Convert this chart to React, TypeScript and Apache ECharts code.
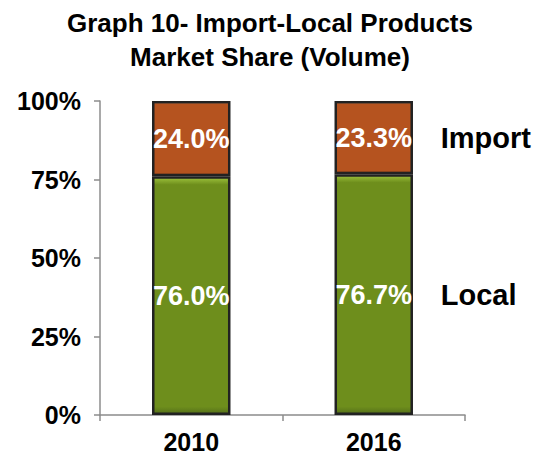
import React, { useEffect, useRef } from "react";
import * as echarts from "echarts";

const categories = ["2010", "2016"];
const localValues = [76.0, 76.7];
const importValues = [24.0, 23.3];
const yTicks = [0, 25, 50, 75, 100];
const seriesNames = ["Local", "Import"];

const FONT = "'Liberation Sans', Arial, Helvetica, sans-serif";

function grad(top: string, main: string, bottom: string) {
  return new echarts.graphic.LinearGradient(0, 0, 0, 1, [
    { offset: 0, color: top },
    { offset: 0.03, color: main },
    { offset: 0.97, color: main },
    { offset: 1, color: bottom },
  ]);
}

export default function App() {
  const ref = useRef<HTMLDivElement>(null);
  useEffect(() => {
    if (!ref.current) return;
    const chart = echarts.init(ref.current, undefined, { renderer: "svg" });
    const last = categories.length - 1;
    const barLabel = {
      show: true,
      position: "inside",
      color: "#ffffff",
      fontFamily: FONT,
      fontWeight: "bold",
      fontSize: 27,
      formatter: (p: any) => Number(p.value).toFixed(1) + "%",
    };
    const sideLabel = (name: string) => ({
      show: true,
      position: "right",
      distance: 67,
      color: "#000000",
      fontFamily: FONT,
      fontWeight: "bold",
      fontSize: 29,
      formatter: name,
    });
    chart.setOption({
      animation: false,
      backgroundColor: "#ffffff",
      title: {
        text: "Graph 10- Import-Local Products\nMarket Share (Volume)",
        left: "center",
        top: 1,
        textStyle: {
          fontFamily: FONT,
          fontWeight: "bold",
          fontSize: 26,
          lineHeight: 34,
          color: "#000000",
        },
      },
      grid: { left: 100, right: 75, top: 101, bottom: 41 },
      xAxis: {
        type: "category",
        data: categories,
        axisLine: { show: true, lineStyle: { color: "#8c8c8c", width: 1.5 } },
        axisTick: { show: true, length: 6, lineStyle: { color: "#8c8c8c", width: 1.5 } },
        axisLabel: {
          color: "#000000",
          fontFamily: FONT,
          fontWeight: "bold",
          fontSize: 25,
          margin: 14,
        },
      },
      yAxis: {
        type: "value",
        min: yTicks[0],
        max: yTicks[yTicks.length - 1],
        interval: yTicks[1] - yTicks[0],
        splitLine: { show: false },
        axisLine: { show: true, lineStyle: { color: "#8c8c8c", width: 1.5 } },
        axisTick: { show: true, length: 6, lineStyle: { color: "#8c8c8c", width: 1.5 } },
        axisLabel: {
          color: "#000000",
          fontFamily: FONT,
          fontWeight: "bold",
          fontSize: 25,
          margin: 19,
          formatter: "{value}%",
        },
      },
      series: [
        {
          name: seriesNames[0],
          type: "bar",
          stack: "total",
          barWidth: "43%",
          data: localValues,
          itemStyle: {
            color: grad("#9cc23c", "#6e8e1c", "#55701a"),
            borderColor: "#222222",
            borderWidth: 2.5,
          },
          label: barLabel,
          markPoint: {
            symbol: "circle",
            symbolSize: 0,
            silent: true,
            data: [
              {
                coord: [categories[last], localValues[last] / 2],
                label: sideLabel(seriesNames[0]),
              },
            ],
          },
        },
        {
          name: seriesNames[1],
          type: "bar",
          stack: "total",
          barWidth: "43%",
          data: importValues,
          itemStyle: {
            color: grad("#ec8a50", "#b5531f", "#8f4016"),
            borderColor: "#222222",
            borderWidth: 2.5,
          },
          label: barLabel,
          markPoint: {
            symbol: "circle",
            symbolSize: 0,
            silent: true,
            data: [
              {
                coord: [categories[last], localValues[last] + importValues[last] / 2],
                label: sideLabel(seriesNames[1]),
              },
            ],
          },
        },
      ],
    });
    return () => chart.dispose();
  }, []);
  return (
    <div
      ref={ref}
      style={{ position: "fixed", left: 0, top: 0, width: 540, height: 456 }}
    />
  );
}
